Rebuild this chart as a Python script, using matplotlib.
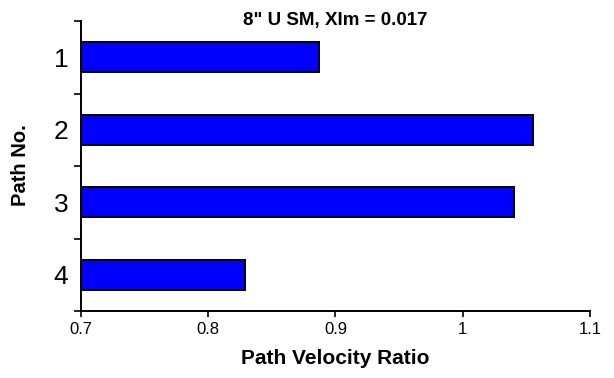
import matplotlib
matplotlib.use("Agg")
import matplotlib.pyplot as plt
import numpy as np

plt.rcParams['font.family'] = ['Liberation Sans', 'DejaVu Sans']

paths = ["1", "2", "3", "4"]
velocity_ratio = [0.887, 1.055, 1.040, 0.829]
x_ticks = [0.7, 0.8, 0.9, 1.0, 1.1]
x_tick_labels = ["0.7", "0.8", "0.9", "1", "1.1"]

W, H = 614, 378
fig = plt.figure(figsize=(W / 100, H / 100), dpi=100)
ax = fig.add_axes([81 / W, 1 - 311 / H, (590 - 81) / W, (311 - 21) / H])

y = np.arange(len(paths))
ax.barh(y, np.array(velocity_ratio) - 0.7, left=0.7, height=0.41,
        color="#0000FF", edgecolor="black", linewidth=1.4)

ax.set_xlim(0.7, 1.1)
ax.set_ylim(len(paths) - 0.5, -0.5)

ax.set_xticks(x_ticks)
ax.set_xticklabels(x_tick_labels, fontsize=12)
ax.tick_params(axis="x", direction="out", length=4, width=1.2, pad=4)

# boundary ticks between categories, labels centred on the bars
ax.set_yticks(np.arange(-0.5, len(paths), 1.0))
ax.set_yticklabels([])
ax.set_yticks(y, minor=True)
ax.set_yticklabels(paths, minor=True, fontsize=19)
ax.tick_params(axis="y", which="major", direction="out", length=5, width=1.2)
ax.tick_params(axis="y", which="minor", length=0, pad=9)

for side in ("top", "right"):
    ax.spines[side].set_visible(False)
for side in ("left", "bottom"):
    ax.spines[side].set_linewidth(1.4)

fig.text(335 / W, 1 - 20 / H, '8" U SM, XIm = 0.017', ha="center", va="center",
         fontsize=13.5, fontweight="bold")
fig.text(335 / W, 1 - 359 / H, "Path Velocity Ratio", ha="center", va="center",
         fontsize=15, fontweight="bold")
fig.text(20 / W, 1 - 165 / H, "Path No.", ha="center", va="center",
         rotation=90, fontsize=14.5, fontweight="bold")

fig.savefig("out.png", dpi=100)
